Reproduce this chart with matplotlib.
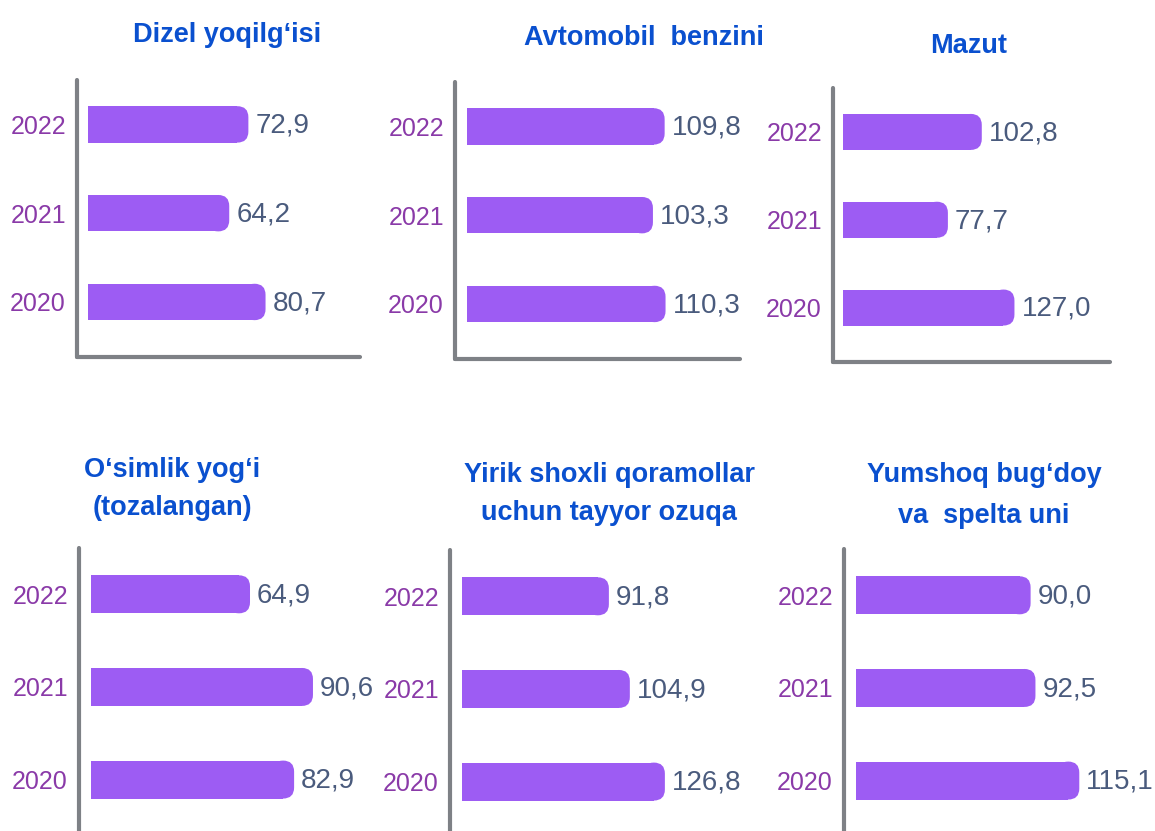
import numpy as np
import matplotlib
matplotlib.use('Agg')
import matplotlib.pyplot as plt
from matplotlib import font_manager
from matplotlib.patches import FancyBboxPatch

# ---- data ----
years = ['2020', '2021', '2022']
dizel = [80.7, 64.2, 72.9]
benzin = [110.3, 103.3, 109.8]
mazut = [127.0, 77.7, 102.8]
osimlik_yogi = [82.9, 90.6, 64.9]
ozuqa = [126.8, 104.9, 91.8]
bugdoy_uni = [115.1, 92.5, 90.0]

titles = [
    ['Dizel yoqilg‘isi'],
    ['Avtomobil  benzini'],
    ['Mazut'],
    ['O‘simlik yog‘i', '(tozalangan)'],
    ['Yirik shoxli qoramollar', 'uchun tayyor ozuqa'],
    ['Yumshoq bug‘doy', 'va  spelta uni'],
]
series = [dizel, benzin, mazut, osimlik_yogi, ozuqa, bugdoy_uni]

# ---- layout (pixels) ----
W, H = 1155, 831
# left(axis line), top, right, bottom, bar start x, px per unit, title x, title baselines
layout = [
    (77, 80, 360, 357, 88, 2.2, 227, [42]),
    (455, 82, 740, 359, 467, 1.8, 644, [45]),
    (833, 88, 1110, 362, 843, 1.35, 969, [53]),
    (79, 548, 360, 837, 91, 2.45, 172, [477, 515]),
    (450, 550, 730, 839, 462, 1.6, 609, [482, 520]),
    (844, 549, 1125, 838, 856, 1.94, 984, [482, 523]),
]

BAR = '#9d5cf3'
YEAR_C = '#8a3aa8'
VAL_C = '#4a5b7d'
TITLE_C = '#0a50cf'
AXIS_C = '#7e8186'


def pick_font(names):
    for n in names:
        try:
            font_manager.findfont(n, fallback_to_default=False)
            return n
        except ValueError:
            pass
    return 'DejaVu Sans'


narrow = pick_font(['Liberation Sans Narrow', 'Arial Narrow'])
if narrow == 'DejaVu Sans':
    num_font, year_size, val_size = 'Liberation Sans', 18, 20
else:
    num_font, year_size, val_size = narrow, 20, 22.5
title_font = pick_font(['Liberation Sans', 'Arial'])

fig = plt.figure(figsize=(W / 100, H / 100), dpi=100)
fig.patch.set_facecolor('white')

ylo, yhi = -0.62, 2.5
bar_h = 0.41
r_px = 11

for k, (vals, ttl, lay) in enumerate(zip(series, titles, layout)):
    left, top, right, bottom, bstart, ppu, tx, tys = lay
    ax = fig.add_axes([left / W, 1 - bottom / H, (right - left) / W, (bottom - top) / H])
    off = (bstart - left) / ppu
    ax.set_xlim(-off, (right - left) / ppu - off)
    ax.set_ylim(ylo, yhi)
    ppu_y = (bottom - top) / (yhi - ylo)

    rx = r_px / ppu
    ry = r_px / ppu_y
    idx = np.arange(len(years))
    v = np.array(vals)
    # square-ended body + rounded cap
    ax.barh(idx, v - rx, height=bar_h, color=BAR, linewidth=0)
    for i, val in zip(idx, v):
        cap = FancyBboxPatch((val - 2 * rx, i - bar_h / 2), 2 * rx, bar_h,
                             boxstyle=f'round,pad=0,rounding_size={rx}',
                             mutation_aspect=ry / rx, facecolor=BAR, linewidth=0)
        ax.add_patch(cap)
        ax.annotate(f'{val:.1f}'.replace('.', ','), (val, i), xytext=(5, -1),
                    textcoords='offset points', va='center', ha='left',
                    fontsize=val_size, color=VAL_C, family=num_font,
                    annotation_clip=False)

    ax.set_yticks(idx, years)
    ax.set_xticks([])
    ax.tick_params(axis='y', length=0, pad=8, labelsize=year_size, labelcolor=YEAR_C)
    for lbl in ax.get_yticklabels():
        lbl.set_family(num_font)

    for s in ['top', 'right']:
        ax.spines[s].set_visible(False)
    ax.spines['left'].set_color(AXIS_C)
    ax.spines['left'].set_linewidth(3)
    ax.spines['left'].set_capstyle('round')
    if k < 3:
        ax.spines['bottom'].set_color(AXIS_C)
        ax.spines['bottom'].set_linewidth(3)
        ax.spines['bottom'].set_capstyle('round')
    else:
        ax.spines['bottom'].set_visible(False)
    ax.patch.set_alpha(0)

    for line, ty in zip(ttl, tys):
        fig.text(tx / W, 1 - ty / H, line, ha='center', va='baseline',
                 fontsize=19.5, fontweight='bold', color=TITLE_C, family=title_font)

fig.savefig('out.png', dpi=100, facecolor='white')
